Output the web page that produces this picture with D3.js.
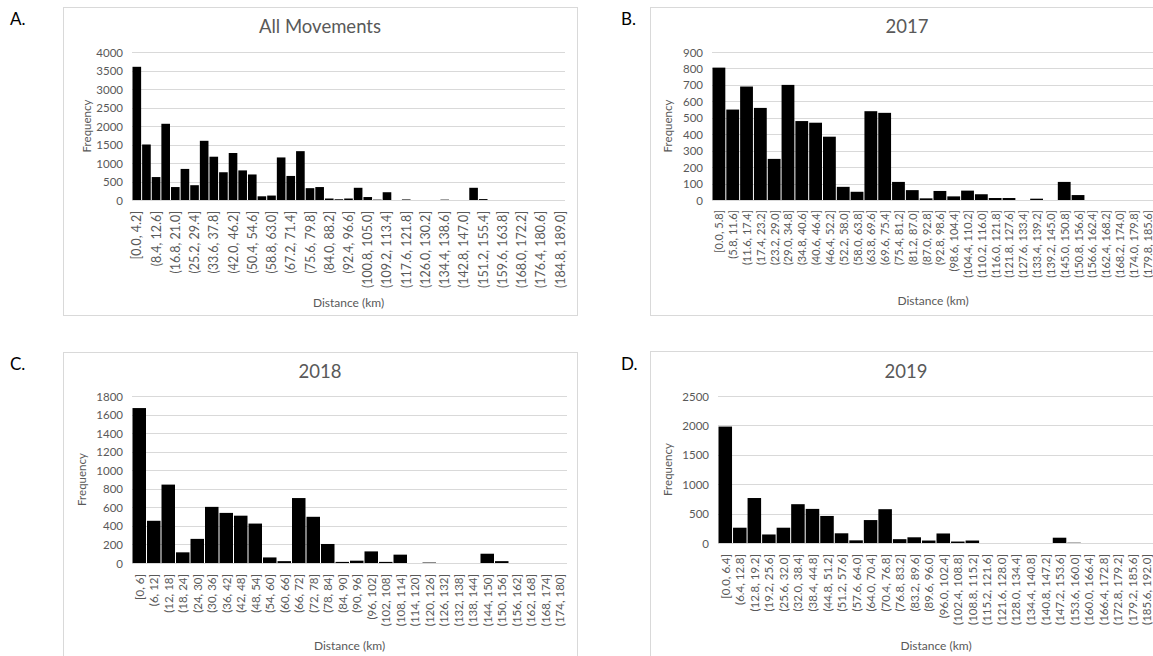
<!doctype html>
<html lang="en">
<head>
<meta charset="utf-8">
<title>Distance histograms</title>
<script src="https://d3js.org/d3.v7.min.js"></script>
<style>
  body { margin: 0; background: #fff; }
  svg { display: block; font-family: Lato, "Noto Sans", sans-serif; }
</style>
</head>
<body>
<svg id="plot" width="1153" height="656"></svg>
<script>
// bin edges as they are printed on the x axis
var edgesAll = ["0.0","4.2","8.4","12.6","16.8","21.0","25.2","29.4","33.6","37.8","42.0","46.2","50.4","54.6","58.8","63.0","67.2","71.4","75.6","79.8","84.0","88.2","92.4","96.6","100.8","105.0","109.2","113.4","117.6","121.8","126.0","130.2","134.4","138.6","142.8","147.0","151.2","155.4","159.6","163.8","168.0","172.2","176.4","180.6","184.8","189.0"];
var edges2017 = ["0.0","5.8","11.6","17.4","23.2","29.0","34.8","40.6","46.4","52.2","58.0","63.8","69.6","75.4","81.2","87.0","92.8","98.6","104.4","110.2","116.0","121.8","127.6","133.4","139.2","145.0","150.8","156.6","162.4","168.2","174.0","179.8","185.6"];
var edges2018 = ["0","6","12","18","24","30","36","42","48","54","60","66","72","78","84","90","96","102","108","114","120","126","132","138","144","150","156","162","168","174","180"];
var edges2019 = ["0.0","6.4","12.8","19.2","25.6","32.0","38.4","44.8","51.2","57.6","64.0","70.4","76.8","83.2","89.6","96.0","102.4","108.8","115.2","121.6","128.0","134.4","140.8","147.2","153.6","160.0","166.4","172.8","179.2","185.6","192.0"];

// frequencies per bin
var freqAll = [3600,1500,620,2060,350,840,400,1600,1170,750,1270,800,690,100,120,1150,650,1320,320,350,40,20,40,330,80,10,210,0,15,0,0,0,10,0,0,330,25,0,0,0,0,0,0,0,0];
var freq2017 = [805,550,690,560,250,700,480,470,385,80,50,540,530,110,60,10,55,22,57,35,12,12,0,8,0,110,30,0,0,0,0,0];
var freq2018 = [1670,455,845,115,260,605,540,510,425,60,20,700,498,205,12,25,125,12,90,0,5,0,0,0,100,20,0,0,0,0];
var freq2019 = [1980,260,765,145,260,660,580,460,165,45,390,575,65,97,42,162,25,42,0,0,0,0,0,90,5,0,0,0,0,0];

var ticksAll = [0,500,1000,1500,2000,2500,3000,3500,4000];
var ticks2017 = [0,100,200,300,400,500,600,700,800,900];
var ticks2018 = [0,200,400,600,800,1000,1200,1400,1600,1800];
var ticks2019 = [0,500,1000,1500,2000,2500];

var titles = ["All Movements","2017","2018","2019"];
var letters = ["A.","B.","C.","D."];

var svg = d3.select("#plot");
var txt = "#595959", grid = "#d9d9d9";

function panel(o) {
  var g = svg.append("g");

  g.append("rect")
    .attr("x", o.box[0] + 0.5).attr("y", o.box[1] + 0.5)
    .attr("width", o.box[2]).attr("height", o.box[3])
    .attr("fill", "none").attr("stroke", grid);

  var x = d3.scaleBand()
    .domain(d3.range(o.freq.length))
    .range([o.l, o.r]);
  var y = d3.scaleLinear()
    .domain([0, d3.max(o.ticks)])
    .range([o.b, o.t]);

  // gridlines
  g.selectAll(".grid").data(o.ticks).enter().append("line")
    .attr("x1", o.l).attr("x2", o.r)
    .attr("y1", d => Math.round(y(d)) + 0.5)
    .attr("y2", d => Math.round(y(d)) + 0.5)
    .attr("stroke", grid).attr("stroke-width", 1);

  // y tick labels
  g.selectAll(".yt").data(o.ticks).enter().append("text")
    .attr("x", o.l - 9).attr("y", d => y(d))
    .attr("text-anchor", "end").attr("dominant-baseline", "central")
    .attr("fill", txt).style("font-size", "11.5px")
    .text(d => d);

  // bars
  g.selectAll(".bar").data(o.freq).enter().append("rect")
    .attr("x", (d, i) => x(i) + 0.5)
    .attr("width", x.bandwidth() - 1)
    .attr("y", d => y(d))
    .attr("height", d => o.b - y(d))
    .attr("fill", "#000");

  // x labels, rotated
  var labels = o.edges.slice(1).map((e, i) => (i == 0 ? "[" : "(") + o.edges[i] + ", " + e + "]");
  g.selectAll(".xt").data(labels).enter()
    .filter((d, i) => i % o.every == 0)
    .append("text")
    .attr("transform", (d, i) => {
      var idx = labels.indexOf(d);
      return "translate(" + (x(idx) + x.bandwidth() / 2) + "," + (o.b + o.gap) + ") rotate(-90)";
    })
    .attr("text-anchor", "end").attr("dominant-baseline", "central")
    .attr("fill", txt).style("font-size", o.fs + "px")
    .text(d => d);

  g.append("text")
    .attr("x", o.cx).attr("y", o.titleY)
    .attr("text-anchor", "middle").attr("fill", txt)
    .style("font-size", "18.5px")
    .text(o.title);

  g.append("text")
    .attr("transform", "translate(" + o.fx + "," + ((o.t + o.b) / 2) + ") rotate(-90)")
    .attr("text-anchor", "middle").attr("dominant-baseline", "central")
    .attr("fill", txt).style("font-size", "11.5px")
    .text("Frequency");

  g.append("text")
    .attr("x", (o.l + o.r) / 2).attr("y", o.distY)
    .attr("text-anchor", "middle").attr("dominant-baseline", "central")
    .attr("fill", txt).style("font-size", "12px")
    .text("Distance (km)");

  svg.append("text")
    .attr("x", o.lx).attr("y", o.ly)
    .attr("fill", "#000").style("font-size", "17px")
    .text(o.letter);
}

panel({ box: [63, 7, 514, 308], l: 132, r: 565, t: 52, b: 200, freq: freqAll, ticks: ticksAll, edges: edgesAll,
  every: 2, fs: 12.5, gap: 11, cx: 320, titleY: 33, fx: 86, distY: 302, title: titles[0], letter: letters[0], lx: 10, ly: 25 });
panel({ box: [650, 7, 514, 308], l: 712, r: 1154, t: 52, b: 200, freq: freq2017, ticks: ticks2017, edges: edges2017,
  every: 1, fs: 11, gap: 10, cx: 907, titleY: 33, fx: 667, distY: 300, title: titles[1], letter: letters[1], lx: 621, ly: 25 });
panel({ box: [63, 352, 514, 320], l: 132, r: 567, t: 396, b: 563, freq: freq2018, ticks: ticks2018, edges: edges2018,
  every: 1, fs: 11.5, gap: 11, cx: 320, titleY: 378, fx: 81, distY: 645, title: titles[2], letter: letters[2], lx: 10, ly: 370 });
panel({ box: [650, 351, 514, 320], l: 718, r: 1154, t: 396, b: 543, freq: freq2019, ticks: ticks2019, edges: edges2019,
  every: 1, fs: 11.5, gap: 11, cx: 906, titleY: 378, fx: 667, distY: 645, title: titles[3], letter: letters[3], lx: 621, ly: 370 });
</script>
</body>
</html>
